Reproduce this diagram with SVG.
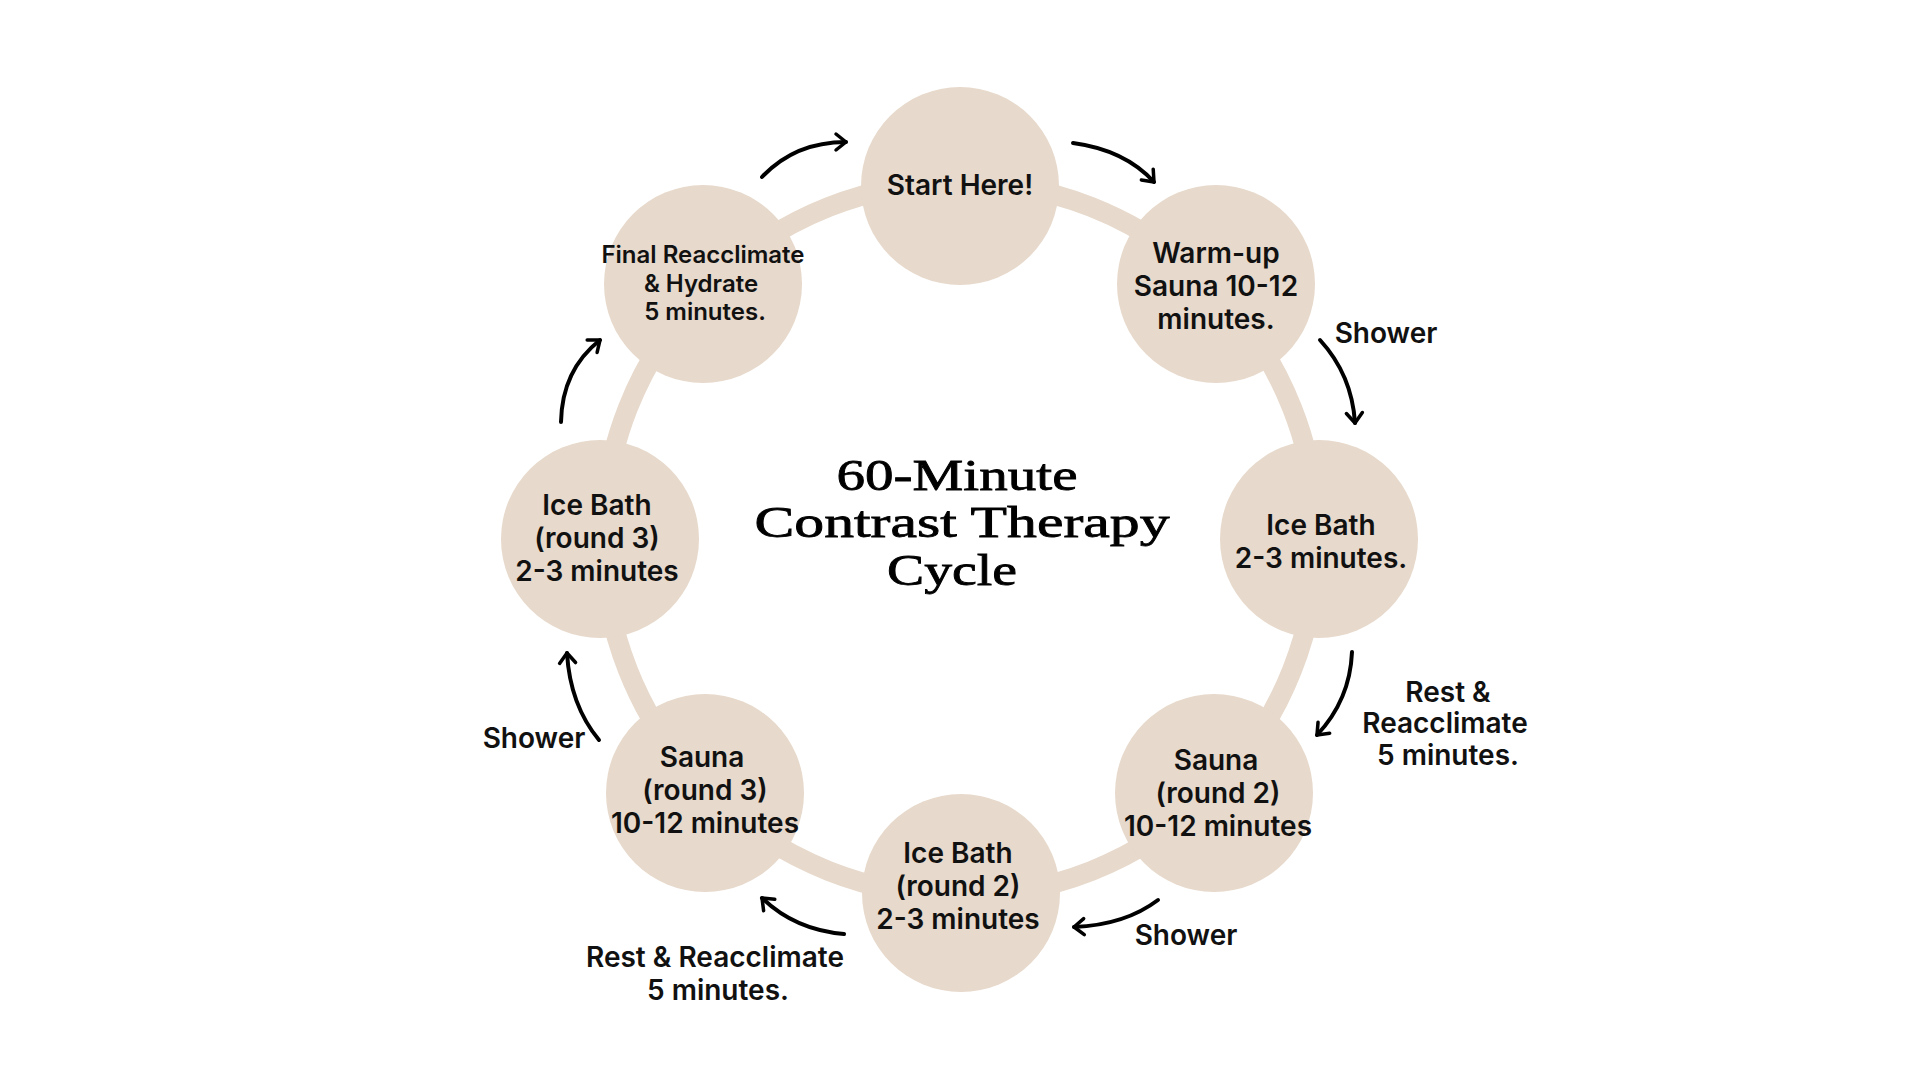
<svg xmlns="http://www.w3.org/2000/svg" width="1920" height="1080" viewBox="0 0 1920 1080">
<defs>
<style>
.node{fill:#e7d9cb}
.t{font-family:Inter,"DejaVu Sans",sans-serif;font-weight:600;font-size:28px;fill:#111;text-anchor:middle}
.s{font-size:24px}
.lbl{font-family:Inter,"DejaVu Sans",sans-serif;font-weight:600;font-size:28px;fill:#111;text-anchor:middle}
.title{font-family:"Liberation Serif",serif;font-size:45px;fill:#000;text-anchor:middle;stroke:#000;stroke-width:0.8}
.arr{fill:none;stroke:#000;stroke-width:4;stroke-linecap:round;marker-end:url(#head)}
</style>
<marker id="head" markerUnits="userSpaceOnUse" markerWidth="30" markerHeight="30" viewBox="-15 -15 30 30" refX="0" refY="0" orient="auto">
<path d="M-10,-8 L0,0 L-10,8" fill="none" stroke="#000" stroke-width="3.5" stroke-linecap="round" stroke-linejoin="round"/>
</marker>
</defs>
<rect width="1920" height="1080" fill="#fff"/>
<circle cx="960" cy="539" r="357" fill="none" stroke="#e7d9cb" stroke-width="20"/>
<g id="connectors">
<path class="arr" d="M762,177 Q795,142 846,142"/>
<path class="arr" d="M1073,143 Q1125,150 1154,182"/>
<path class="arr" d="M1320,340 Q1352,375 1355,423"/>
<path class="arr" d="M1352,652 Q1350,700 1317,735"/>
<path class="arr" d="M1158,900 Q1125,925 1074,927"/>
<path class="arr" d="M844,934 Q795,930 762,898"/>
<path class="arr" d="M599,740 Q570,705 567,653"/>
<path class="arr" d="M561,422 Q562,370 600,340"/>
</g>
<g id="start"><circle class="node" cx="960" cy="186" r="99"/><text class="t" x="960" y="195">Start Here!</text></g>
<g id="warmup"><circle class="node" cx="1216" cy="284" r="99"/><text class="t" x="1216" y="263">Warm-up</text><text class="t" x="1216" y="296">Sauna 10-12</text><text class="t" x="1216" y="329">minutes.</text></g>
<g id="icebath1"><circle class="node" cx="1319" cy="539" r="99"/><text class="t" x="1321" y="535">Ice Bath</text><text class="t" x="1321" y="568">2-3 minutes.</text></g>
<g id="sauna2"><circle class="node" cx="1214" cy="793" r="99"/><text class="t" x="1216" y="770">Sauna</text><text class="t" x="1218" y="803">(round 2)</text><text class="t" x="1218" y="836">10-12 minutes</text></g>
<g id="icebath2"><circle class="node" cx="961" cy="893" r="99"/><text class="t" x="958" y="863">Ice Bath</text><text class="t" x="958" y="896">(round 2)</text><text class="t" x="958" y="929">2-3 minutes</text></g>
<g id="sauna3"><circle class="node" cx="705" cy="793" r="99"/><text class="t" x="702" y="767">Sauna</text><text class="t" x="705" y="800">(round 3)</text><text class="t" x="705" y="833">10-12 minutes</text></g>
<g id="icebath3"><circle class="node" cx="600" cy="539" r="99"/><text class="t" x="597" y="515">Ice Bath</text><text class="t" x="597" y="548">(round 3)</text><text class="t" x="597" y="581">2-3 minutes</text></g>
<g id="final"><circle class="node" cx="703" cy="284" r="99"/><text class="t s" x="703" y="263">Final Reacclimate</text><text class="t s" x="701" y="292">&amp; Hydrate</text><text class="t s" x="705" y="320">5 minutes.</text></g>
<g id="title"><text class="title" x="957" y="490" textLength="241" lengthAdjust="spacingAndGlyphs">60-Minute</text><text class="title" x="962" y="537" textLength="415" lengthAdjust="spacingAndGlyphs">Contrast Therapy</text><text class="title" x="952" y="585" textLength="130" lengthAdjust="spacingAndGlyphs">Cycle</text></g>
<g id="labels">
<text class="lbl" x="1386" y="343">Shower</text>
<text class="lbl" x="1448" y="702">Rest &amp;</text>
<text class="lbl" x="1445" y="733">Reacclimate</text>
<text class="lbl" x="1448" y="765">5 minutes.</text>
<text class="lbl" x="1186" y="945">Shower</text>
<text class="lbl" x="715" y="967">Rest &amp; Reacclimate</text>
<text class="lbl" x="718" y="1000">5 minutes.</text>
<text class="lbl" x="534" y="748">Shower</text>
</g>
</svg>
